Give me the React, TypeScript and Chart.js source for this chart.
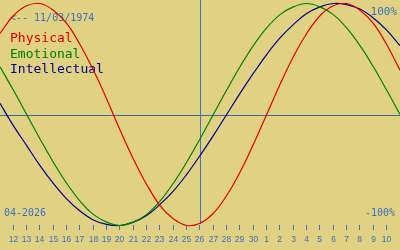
import React, { useEffect, useRef } from "react";
import { Chart, registerables } from "chart.js";

Chart.register(...registerables);

// Day index (April days; 31 = 1 May)
const days = [11, 12, 13, 14, 15, 16, 17, 18, 19, 20, 21, 22, 23, 24, 25, 26, 27, 28, 29, 30, 31, 32, 33, 34, 35, 36, 37, 38, 39, 40, 41];
const physical = [0.73, 0.89, 0.98, 1.0, 0.94, 0.82, 0.63, 0.4, 0.14, -0.14, -0.4, -0.63, -0.82, -0.94, -1.0, -0.98, -0.89, -0.73, -0.52, -0.27, 0.0, 0.27, 0.52, 0.73, 0.89, 0.98, 1.0, 0.94, 0.82, 0.63, 0.4];
const emotional = [0.43, 0.22, 0.0, -0.22, -0.43, -0.62, -0.78, -0.9, -0.97, -1.0, -0.97, -0.9, -0.78, -0.62, -0.43, -0.22, 0.0, 0.22, 0.43, 0.62, 0.78, 0.9, 0.97, 1.0, 0.97, 0.9, 0.78, 0.62, 0.43, 0.22, 0.0];
const intellectual = [0.1, -0.1, -0.28, -0.46, -0.62, -0.76, -0.87, -0.95, -0.99, -1.0, -0.97, -0.91, -0.81, -0.69, -0.54, -0.37, -0.19, 0.0, 0.19, 0.37, 0.54, 0.69, 0.81, 0.91, 0.97, 1.0, 0.99, 0.95, 0.87, 0.76, 0.62];
const tickDays = [12, 13, 14, 15, 16, 17, 18, 19, 20, 21, 22, 23, 24, 25, 26, 27, 28, 29, 30, 31, 32, 33, 34, 35, 36, 37, 38, 39, 40];
const tickLabels = ["12", "13", "14", "15", "16", "17", "18", "19", "20", "21", "22", "23", "24", "25", "26", "27", "28", "29", "30", "1", "2", "3", "4", "5", "6", "7", "8", "9", "10"];
const seriesNames = ["Physical", "Emotional", "Intellectual"];
const seriesColors = ["#e00000", "#008000", "#000088"];
const todayDay = 26;
const birthText = "<-- 11/03/1974";
const monthText = "04-2026";
const topText = "100%";
const bottomText = "-100%";

const BG = "#e0d282";
const TEXT_BLUE = "#3a70c0";

export default function App() {
  const ref = useRef<HTMLCanvasElement | null>(null);

  useEffect(() => {
    document.body.style.margin = "0";
    const canvas = ref.current;
    if (!canvas) return;

    const decor = {
      id: "decor",
      beforeDraw(chart: any) {
        const ctx = chart.ctx;
        ctx.save();
        ctx.fillStyle = BG;
        ctx.fillRect(0, 0, chart.width, chart.height);
        const xs = chart.scales.x;
        const ys = chart.scales.y;
        // zero line
        const y0 = Math.round(ys.getPixelForValue(0)) + 0.5;
        ctx.strokeStyle = "#3d6aa6";
        ctx.lineWidth = 1;
        ctx.beginPath();
        ctx.moveTo(0, y0);
        ctx.lineTo(chart.width, y0);
        ctx.stroke();
        // today line
        const xt = Math.round(xs.getPixelForValue(todayDay)) + 0.5;
        ctx.strokeStyle = "#3d74c4";
        ctx.beginPath();
        ctx.moveTo(xt, 0);
        ctx.lineTo(xt, 224);
        ctx.stroke();
        // ticks
        ctx.strokeStyle = TEXT_BLUE;
        ctx.fillStyle = TEXT_BLUE;
        ctx.font = "8.5px 'Liberation Sans'";
        ctx.textAlign = "center";
        ctx.textBaseline = "alphabetic";
        tickDays.forEach((d, i) => {
          const x = Math.round(xs.getPixelForValue(d) - 0.6) + 0.5;
          ctx.beginPath();
          ctx.moveTo(x, 225);
          ctx.lineTo(x, 230);
          ctx.stroke();
          ctx.fillText(tickLabels[i], x, 241.5);
        });
        // texts
        ctx.font = "10px 'DejaVu Sans Mono'";
        ctx.textAlign = "left";
        ctx.fillText(birthText, 10, 21);
        ctx.fillText(monthText, 4, 216);
        ctx.textAlign = "right";
        ctx.fillText(bottomText, 395, 216);
        ctx.font = "11px 'DejaVu Sans Mono'";
        ctx.fillText(topText, 397, 15);
        // legend
        ctx.font = "13px 'DejaVu Sans Mono'";
        ctx.textAlign = "left";
        const baselines = [42, 57.5, 73];
        seriesNames.forEach((n, i) => {
          ctx.fillStyle = seriesColors[i];
          ctx.fillText(n, 10, baselines[i]);
        });
        ctx.restore();
      },
    };

    const mk = (vals: number[]) => days.map((d, i) => ({ x: d, y: vals[i] }));
    const allVals = [physical, emotional, intellectual];

    const chart = new Chart(canvas, {
      type: "line",
      data: {
        datasets: allVals.map((v, i) => ({
          label: seriesNames[i],
          data: mk(v),
          borderColor: seriesColors[i],
          borderWidth: 1.2,
          pointRadius: 0,
          tension: 0.4,
          fill: false,
        })),
      },
      options: {
        responsive: false,
        animation: false,
        events: [],
        layout: { padding: 0 },
        plugins: { legend: { display: false }, tooltip: { enabled: false }, title: { display: false } },
        scales: {
          x: { type: "linear", min: 11, max: 41, display: false },
          y: { type: "linear", min: (114.5 - 250) / 111, max: 114.5 / 111, display: false },
        },
      },
      plugins: [decor],
    });
    return () => chart.destroy();
  }, []);

  return <canvas ref={ref} width={400} height={250} style={{ display: "block" }} />;
}
